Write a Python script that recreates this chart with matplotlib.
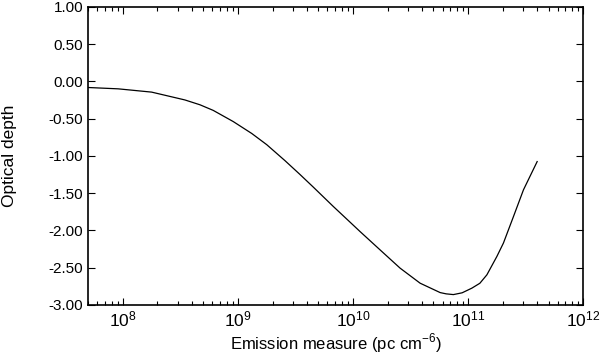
import matplotlib
matplotlib.use('Agg')
import matplotlib.pyplot as plt
import matplotlib.ticker as ticker
import numpy as np

plt.rcParams['font.family'] = ['Liberation Sans', 'DejaVu Sans']
plt.rcParams['mathtext.fontset'] = 'custom'
plt.rcParams['mathtext.rm'] = 'Liberation Sans'

# log10 of emission measure and optical depth
log_em = [7.696, 7.959, 8.250, 8.539, 8.670, 8.785, 8.959, 9.120, 9.250, 9.409, 9.539,
          9.655, 9.829, 9.959, 10.061, 10.235, 10.409, 10.583, 10.757, 10.809, 10.872,
          10.948, 11.032, 11.102, 11.163, 11.250, 11.307, 11.394, 11.481, 11.60]
tau = [-0.083, -0.101, -0.145, -0.250, -0.315, -0.390, -0.540, -0.700, -0.850, -1.065, -1.250,
       -1.420, -1.680, -1.868, -2.016, -2.262, -2.507, -2.709, -2.835, -2.852, -2.862,
       -2.838, -2.776, -2.710, -2.597, -2.350, -2.170, -1.815, -1.456, -1.077]

em = 10 ** np.array(log_em)

fig = plt.figure(figsize=(6.0, 3.57), dpi=100)
ax = fig.add_axes([0.147, 0.146, 0.825, 0.835])

ax.plot(em, tau, 'k-', lw=0.9)

ax.set_xscale('log')
ax.set_xlim(5e7, 1e12)
ax.set_ylim(-3.0, 1.0)
ax.yaxis.set_major_locator(ticker.MultipleLocator(0.5))
ax.yaxis.set_major_formatter(ticker.FormatStrFormatter('%.2f'))
ax.xaxis.set_major_locator(ticker.LogLocator(base=10, numticks=10))
ax.xaxis.set_minor_locator(ticker.LogLocator(base=10, subs=np.arange(2, 10), numticks=20))
ax.xaxis.set_minor_formatter(ticker.NullFormatter())

ax.tick_params(which='both', direction='in', top=True, right=True, width=0.8)
ax.tick_params(axis='y', labelsize=11)
ax.tick_params(axis='x', labelsize=12.5)
ax.tick_params(which='major', length=5)
ax.tick_params(which='minor', length=3)
for s in ax.spines.values():
    s.set_linewidth(1.2)

ax.set_xlabel('Emission measure (pc cm$^{-6}$)', fontsize=12, labelpad=1)
ax.set_ylabel('Optical depth', fontsize=12.5, labelpad=23)

fig.savefig('out.png', dpi=100)
